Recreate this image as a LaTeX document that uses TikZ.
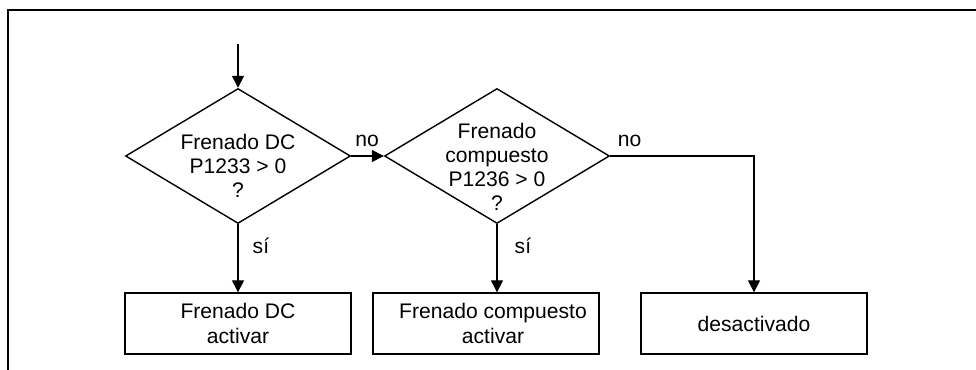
\documentclass[tikz,border=0pt]{standalone}
\usepackage{fontspec}
\setmainfont{Liberation Sans}
\usetikzlibrary{shapes.geometric,arrows.meta}

\begin{document}
\begin{tikzpicture}[
  decision/.style={draw, diamond, line width=0.8pt, minimum width=45mm,
                   minimum height=27mm, inner sep=0pt},
  dtext/.style={align=center, font=\fontsize{12}{13.6}\selectfont, inner sep=0pt},
  action/.style={draw, rectangle, line width=0.8pt, minimum width=45.2mm,
                 minimum height=12.2mm, align=center, inner sep=0pt,
                 font=\fontsize{12}{14.2}\selectfont},
  flow/.style={-{Triangle[length=2.4mm, width=2.4mm]}, line width=0.8pt},
  lbl/.style={font=\fontsize{12}{14}\selectfont, inner sep=0pt},
]
\useasboundingbox (0,0) rectangle (19.52,-7.4);

% ---- frame (only top and left edge in view) ----
\draw[line width=1.5pt] (19.7,-0.2) -- (0.16,-0.2) -- (0.16,-7.6);

% ---- decisions ----
\coordinate (start) at (4.76,-0.88);
\node[decision] (dc) at (4.76,-3.12) {};
\node[dtext, yshift=-0.2cm] (dctxt) at (dc) {Frenado DC\\P1233 > 0\\?};
\node[decision] (dcomp) at (9.94,-3.12) {};
\node[dtext, yshift=-0.22cm] (dcomptxt) at (dcomp)
  {Frenado\\compuesto\\P1236 > 0\\?};

% ---- actions ----
\node[action] (bdc)   at (4.76,-6.47)  {Frenado DC\\activar};
\node[action] (bcomp) at (9.72,-6.47)  {\hspace*{0.28cm}Frenado compuesto\\\hspace*{0.28cm}activar};
\node[action] (boff)  at (15.08,-6.47) {desactivado};

% ---- connectors ----
\draw[flow] (start) -- (dc.north);
\draw[flow] (dc.east) -- (dcomp.west)
  node[lbl, pos=0, anchor=south west, xshift=0.07cm, yshift=0.17cm] {no};
\draw[flow] (dc.south) -- (bdc.north)
  node[lbl, pos=0.32, right=0.28cm] {sí};
\draw[flow] (dcomp.south) -- (dcomp.south |- bcomp.north)
  node[lbl, pos=0.32, right=0.34cm] {sí};
\draw[flow] (dcomp.east) -| (boff.north)
  node[lbl, pos=0, anchor=south west, xshift=0.14cm, yshift=0.17cm] {no};

\end{tikzpicture}
\end{document}
